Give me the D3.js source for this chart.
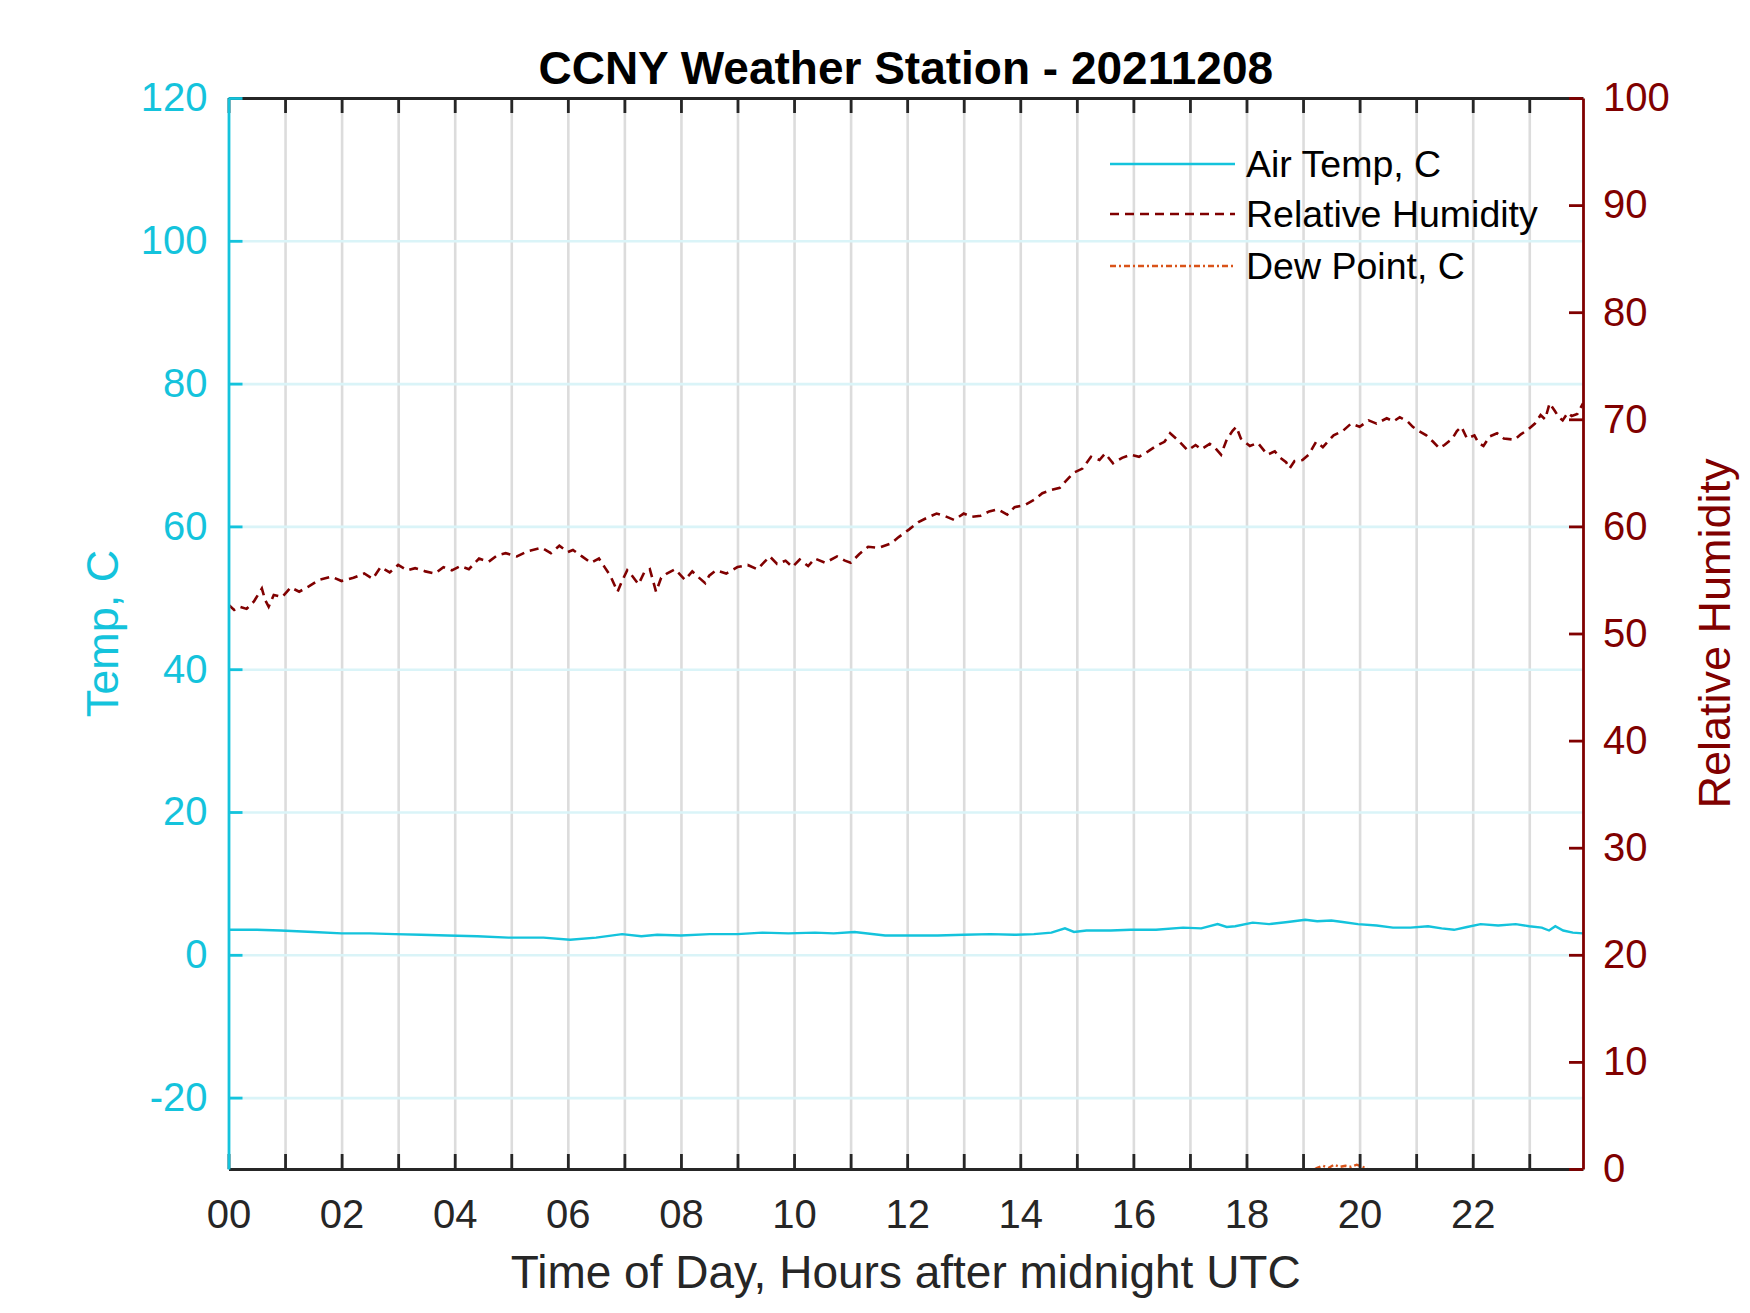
<!DOCTYPE html>
<html>
<head>
<meta charset="utf-8">
<script src="https://cdn.jsdelivr.net/npm/d3@7"></script>
<style>
    body { margin: 0; background: #fff; }
    svg { display: block; font-family: "Liberation Sans", Arial, sans-serif; }
</style>
</head>
<body>
<svg id="svgWeather" width="1750" height="1313"></svg>
<script>
// air temperature, C (left axis)
const tempHours = [0.00, 0.50, 0.92, 1.50, 2.00, 2.50, 2.94, 3.40, 3.87, 4.40, 4.95, 5.57, 6.04, 6.50, 6.96,
    7.30, 7.58, 8.00, 8.51, 9.00, 9.44, 9.90, 10.37, 10.70, 11.07, 11.61, 12.00, 12.54, 13.00, 13.47, 13.90,
    14.24, 14.55, 14.79, 14.95, 15.17, 15.60, 15.95, 16.40, 16.88, 17.20, 17.49, 17.65, 17.80, 18.11, 18.40,
    18.73, 19.04, 19.25, 19.50, 19.70, 19.97, 20.30, 20.59, 20.90, 21.21, 21.45, 21.67, 21.90, 22.14, 22.45,
    22.76, 23.00, 23.22, 23.35, 23.46, 23.60, 23.77, 23.95];
const tempValues = [3.5, 3.5, 3.4, 3.2, 3.0, 3.0, 2.9, 2.8, 2.7, 2.6, 2.4, 2.4, 2.1, 2.4, 2.9,
    2.6, 2.8, 2.7, 2.9, 2.9, 3.1, 3.0, 3.1, 3.0, 3.2, 2.7, 2.7, 2.7, 2.8, 2.9, 2.8,
    2.9, 3.1, 3.7, 3.2, 3.4, 3.4, 3.5, 3.5, 3.8, 3.7, 4.3, 3.9, 4.0, 4.5, 4.3,
    4.6, 4.9, 4.7, 4.8, 4.6, 4.3, 4.1, 3.8, 3.8, 4.0, 3.7, 3.5, 3.9, 4.3, 4.1,
    4.3, 4.0, 3.8, 3.4, 4.0, 3.4, 3.1, 3.0];

// relative humidity, % (right axis)
const rhHours = [0.00, 0.10, 0.20, 0.32, 0.45, 0.59, 0.65, 0.71, 0.80, 0.95, 1.10, 1.25, 1.42, 1.60, 1.82,
    2.00, 2.21, 2.40, 2.55, 2.69, 2.85, 3.00, 3.16, 3.30, 3.48, 3.65, 3.80, 3.95, 4.10, 4.25, 4.43, 4.60,
    4.75, 4.90, 5.10, 5.30, 5.54, 5.70, 5.85, 6.00, 6.09, 6.25, 6.41, 6.55, 6.65, 6.75, 6.88, 6.95, 7.05,
    7.12, 7.25, 7.35, 7.45, 7.56, 7.65, 7.75, 7.90, 8.07, 8.20, 8.30, 8.43, 8.50, 8.62, 8.80, 9.00, 9.18,
    9.35, 9.57, 9.70, 9.85, 9.97, 10.10, 10.25, 10.37, 10.55, 10.76, 10.90, 11.00, 11.15, 11.31, 11.50,
    11.71, 11.85, 12.03, 12.20, 12.35, 12.52, 12.65, 12.83, 13.00, 13.14, 13.30, 13.45, 13.60, 13.77,
    13.90, 14.08, 14.25, 14.39, 14.55, 14.70, 14.80, 14.94, 15.10, 15.25, 15.40, 15.50, 15.64, 15.80,
    15.95, 16.10, 16.26, 16.40, 16.55, 16.65, 16.80, 16.96, 17.10, 17.20, 17.35, 17.45, 17.55, 17.65,
    17.75, 17.82, 17.90, 18.06, 18.20, 18.37, 18.50, 18.60, 18.70, 18.76, 18.85, 18.99, 19.10, 19.23,
    19.35, 19.54, 19.70, 19.85, 20.00, 20.16, 20.30, 20.48, 20.60, 20.71, 20.85, 20.94, 21.05, 21.18,
    21.30, 21.41, 21.50, 21.64, 21.72, 21.80, 21.90, 22.03, 22.10, 22.19, 22.30, 22.43, 22.55, 22.74,
    22.85, 22.97, 23.10, 23.20, 23.28, 23.36, 23.45, 23.52, 23.59, 23.68, 23.75, 23.85, 23.95];
const rhValues = [52.7, 52.2, 52.5, 52.3, 53.0, 54.2, 53.1, 52.5, 53.6, 53.4, 54.3, 53.9, 54.4, 55.0, 55.3,
    54.9, 55.2, 55.6, 55.1, 56.2, 55.7, 56.4, 55.9, 56.1, 55.8, 55.6, 56.2, 55.9, 56.3, 56.0, 57.0, 56.7,
    57.3, 57.5, 57.2, 57.7, 58.0, 57.5, 58.2, 57.6, 57.8, 57.2, 56.6, 57.0, 56.2, 55.4, 53.9, 54.8, 55.9,
    55.5, 54.6, 55.7, 56.0, 53.9, 55.2, 55.6, 56.0, 55.0, 55.8, 55.3, 54.7, 55.4, 55.9, 55.6, 56.2, 56.4,
    56.0, 57.2, 56.5, 56.8, 56.2, 56.9, 56.3, 57.0, 56.6, 57.2, 56.8, 56.6, 57.4, 58.1, 58.0,
    58.4, 59.0, 59.7, 60.4, 60.8, 61.2, 61.0, 60.6, 61.2, 60.9, 61.0, 61.4, 61.6, 61.1,
    61.8, 62.0, 62.5, 63.1, 63.4, 63.6, 64.2, 65.0, 65.4, 66.5, 66.2, 66.8, 65.9, 66.4,
    66.7, 66.5, 67.0, 67.5, 67.9, 68.7, 68.0, 67.1, 67.6, 67.2, 67.7, 67.3, 66.7, 68.1,
    68.9, 69.3, 68.2, 67.5, 67.8, 66.7, 67.0, 66.4, 66.0, 65.4, 66.1, 66.2, 66.7, 67.9,
    67.4, 68.5, 68.9, 69.6, 69.3, 69.9, 69.6, 70.1, 69.8, 70.2, 69.8, 69.3, 68.9, 68.5,
    67.9, 67.3, 67.6, 68.2, 68.9, 69.3, 68.2, 68.5, 67.8, 67.5, 68.4, 68.7, 68.2, 68.1,
    68.6, 69.0, 69.6, 70.4, 70.0, 71.5, 70.8, 70.2, 69.9, 70.6, 70.3, 70.5, 71.5];

// dew point, C (drawn against the right axis, mostly below the visible range)
const dewHours = [0, 1, 2, 3, 4, 5, 6, 7, 8, 9, 10, 11, 12, 13, 14, 15, 16, 17, 18, 19,
    19.25, 19.35, 19.45, 19.55, 19.65, 19.75, 19.85, 19.95, 20.1, 20.3, 21, 22, 23, 23.95];
const dewValues = [-6.0, -5.8, -5.6, -5.5, -5.4, -5.2, -5.5, -6.0, -5.8, -5.4, -5.2, -5.0, -4.1, -3.8,
    -3.4, -2.2, -1.8, -1.5, -1.2, -0.6, 0.1, 0.3, 0.1, 0.4, 0.2, 0.3, 0.2, 0.4, 0.1, -0.4, -1.2, -1.4,
    -1.0, -1.2];

const hourTicks = d3.range(0, 24);
const tempTicks = [-20, 0, 20, 40, 60, 80, 100, 120];
const rhTicks = d3.range(0, 101, 10);
const legendLabels = ["Air Temp, C", "Relative Humidity", "Dew Point, C"];

const cyan = "#14c3dc";
const darkRed = "#800000";
const orange = "#d95319";
const axisGrey = "#262626";

function makeWeatherChart() {
    const svg = d3.select("#svgWeather");
    const plot = { left: 228.5, right: 1583, top: 98, bottom: 1169 };
    const width = plot.right - plot.left;
    const height = plot.bottom - plot.top;

    const x = d3.scaleLinear().domain([0, 23.95]).range([0, width]);
    const yTemp = d3.scaleLinear().domain([-30, 120]).range([height, 0]);
    const yRh = d3.scaleLinear().domain([0, 100]).range([height, 0]);

    const g = svg.append("g")
        .attr("transform", "translate(" + plot.left + "," + plot.top + ")");

    g.append("clipPath").attr("id", "plotClip")
        .append("rect").attr("width", width).attr("height", height);

    addGrid(g, x, yTemp, width, height);

    // series
    const tempData = tempHours.map((h, i) => ({ x: h, y: tempValues[i] }));
    const rhData = rhHours.map((h, i) => ({ x: h, y: rhValues[i] }));
    const dewData = dewHours.map((h, i) => ({ x: h, y: dewValues[i] }));

    const lines = g.append("g").attr("clip-path", "url(#plotClip)");
    lines.append("path")
        .datum(tempData)
        .attr("fill", "none")
        .attr("stroke", cyan)
        .attr("stroke-width", 2.4)
        .attr("d", d3.line().x(d => x(d.x)).y(d => yTemp(d.y)));
    lines.append("path")
        .datum(rhData)
        .attr("fill", "none")
        .attr("stroke", darkRed)
        .attr("stroke-width", 2.6)
        .attr("stroke-dasharray", "9,6")
        .attr("d", d3.line().x(d => x(d.x)).y(d => yRh(d.y)));
    lines.append("path")
        .datum(dewData)
        .attr("fill", "none")
        .attr("stroke", orange)
        .attr("stroke-width", 2.4)
        .attr("stroke-dasharray", "6,3,2,3")
        .attr("d", d3.line().x(d => x(d.x)).y(d => yRh(d.y)));

    addAxes(g, x, yTemp, yRh, width, height);
    addLegend(svg);

    // title and labels
    svg.append("text")
        .attr("x", plot.left + width / 2)
        .attr("y", 84)
        .attr("text-anchor", "middle")
        .attr("font-size", 46)
        .attr("font-weight", "bold")
        .attr("fill", "#000")
        .text("CCNY Weather Station - 20211208");

    svg.append("text")
        .attr("x", plot.left + width / 2)
        .attr("y", 1288)
        .attr("text-anchor", "middle")
        .attr("font-size", 46)
        .attr("fill", axisGrey)
        .text("Time of Day, Hours after midnight UTC");

    svg.append("text")
        .attr("transform", "translate(118," + (plot.top + height / 2) + ") rotate(-90)")
        .attr("text-anchor", "middle")
        .attr("font-size", 45)
        .attr("fill", cyan)
        .text("Temp, C");

    svg.append("text")
        .attr("transform", "translate(1730," + (plot.top + height / 2) + ") rotate(-90)")
        .attr("text-anchor", "middle")
        .attr("font-size", 45)
        .attr("fill", darkRed)
        .text("Relative Humidity");
}

function addGrid(g, x, yTemp, width, height) {
    g.append("g")
        .attr("transform", "translate(0," + height + ")")
        .call(d3.axisBottom(x).tickValues(hourTicks.slice(1)).tickSize(-height).tickFormat(""))
        .call(a => a.select(".domain").remove())
        .selectAll("line")
        .attr("stroke", "#dcdcdc")
        .attr("stroke-width", 2.6);

    g.append("g")
        .call(d3.axisLeft(yTemp).tickValues(tempTicks).tickSize(-width).tickFormat(""))
        .call(a => a.select(".domain").remove())
        .selectAll("line")
        .attr("stroke", "#daf4f8")
        .attr("stroke-width", 2.6);
}

function addAxes(g, x, yTemp, yRh, width, height) {
    const fmtHour = d3.format("02d");

    const bottom = g.append("g")
        .attr("transform", "translate(0," + height + ")")
        .call(d3.axisBottom(x)
            .tickValues(hourTicks)
            .tickSizeInner(-15)
            .tickSizeOuter(0)
            .tickPadding(31)
            .tickFormat(d => d % 2 === 0 ? fmtHour(d) : ""));
    styleAxis(bottom, axisGrey, 40);

    const top = g.append("g")
        .call(d3.axisTop(x)
            .tickValues(hourTicks)
            .tickSizeInner(-15)
            .tickSizeOuter(0)
            .tickFormat(""));
    styleAxis(top, axisGrey, 40);

    // plain hyphen for negatives, like the original
    const left = g.append("g")
        .call(d3.axisLeft(yTemp)
            .tickValues(tempTicks)
            .tickSizeInner(-14)
            .tickSizeOuter(0)
            .tickPadding(21)
            .tickFormat(d => String(d)));
    styleAxis(left, cyan, 40);

    const right = g.append("g")
        .attr("transform", "translate(" + width + ",0)")
        .call(d3.axisRight(yRh)
            .tickValues(rhTicks)
            .tickSizeInner(-14)
            .tickSizeOuter(0)
            .tickPadding(20)
            .tickFormat(d => String(d)));
    styleAxis(right, darkRed, 40);
}

function styleAxis(axis, color, fontSize) {
    axis.attr("font-family", null).attr("font-size", fontSize);
    axis.select(".domain").attr("stroke", color).attr("stroke-width", 2.8);
    axis.selectAll(".tick line").attr("stroke", color).attr("stroke-width", 2.8);
    axis.selectAll(".tick text").attr("fill", color);
}

function addLegend(svg) {
    const styles = [
        { color: cyan, dash: null, width: 2.6 },
        { color: darkRed, dash: "9,6", width: 2.6 },
        { color: orange, dash: "6,3,2,3", width: 2.4 }
    ];
    const rowY = [164, 214, 266];
    const legend = svg.append("g");

    legendLabels.forEach((label, i) => {
        legend.append("line")
            .attr("x1", 1110).attr("x2", 1235)
            .attr("y1", rowY[i]).attr("y2", rowY[i])
            .attr("stroke", styles[i].color)
            .attr("stroke-width", styles[i].width)
            .attr("stroke-dasharray", styles[i].dash);
        legend.append("text")
            .attr("x", 1246)
            .attr("y", rowY[i])
            .attr("dy", "0.35em")
            .attr("font-size", 37.5)
            .attr("fill", "#000")
            .text(label);
    });
}

makeWeatherChart();
</script>
</body>
</html>
